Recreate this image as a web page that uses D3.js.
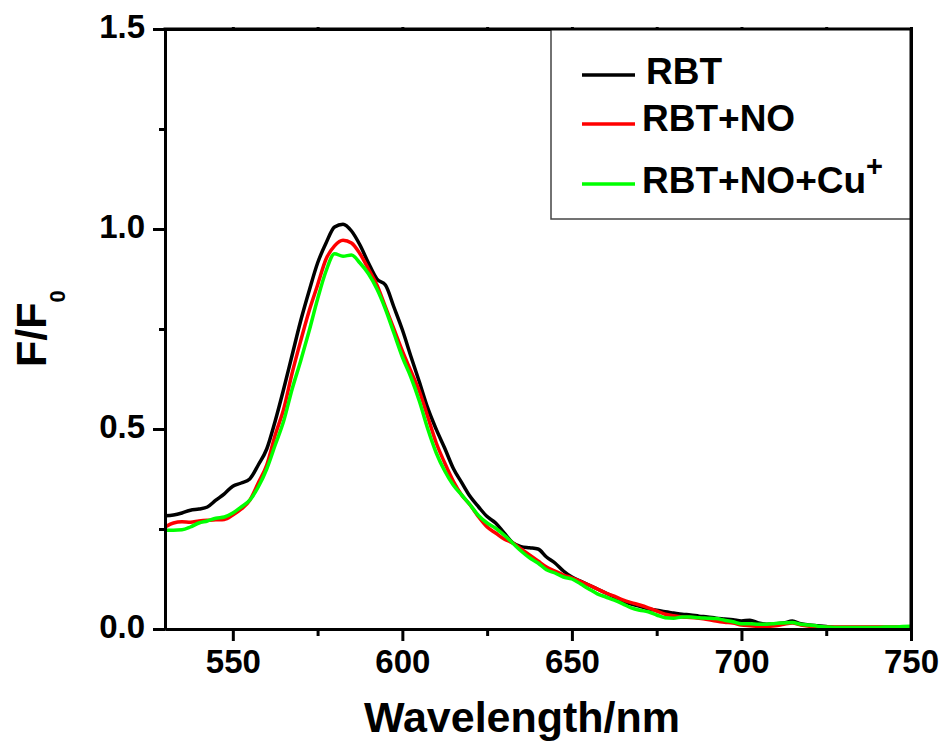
<!DOCTYPE html>
<html>
<head>
<meta charset="utf-8">
<script src="https://cdn.jsdelivr.net/npm/d3@7/dist/d3.min.js"></script>
<style>
  html, body { margin: 0; padding: 0; background: #fff; }
  svg { display: block; font-family: "Liberation Sans", Arial, sans-serif; font-weight: bold; }
</style>
</head>
<body>
<svg id="chart" width="944" height="746"></svg>
<script>
// ---- data ----
const wavelengths = d3.range(530, 750.01, 2.5);
const seriesNames = ["RBT", "RBT+NO", "RBT+NO+Cu"];
const seriesColors = ["#000000", "#ff0000", "#00ff00"];
const rbt = [
  0.283,0.285,0.290,0.297,0.300,0.305,0.322,0.338,0.357,0.365,
  0.375,0.410,0.450,0.520,0.600,0.685,0.770,0.845,0.915,0.965,
  1.005,1.012,0.995,0.960,0.915,0.875,0.860,0.805,0.748,0.682,
  0.618,0.552,0.499,0.452,0.402,0.366,0.331,0.305,0.281,0.265,
  0.240,0.216,0.206,0.203,0.200,0.180,0.165,0.145,0.130,0.120,
  0.110,0.100,0.090,0.080,0.070,0.062,0.057,0.050,0.047,0.043,
  0.040,0.037,0.035,0.032,0.030,0.027,0.025,0.023,0.020,0.022,
  0.015,0.012,0.013,0.015,0.020,0.013,0.010,0.008,0.006,0.004,
  0.004,0.004,0.004,0.004,0.004,0.004,0.004,0.004,0.004
];
const rbtNO = [
  0.255,0.265,0.268,0.267,0.270,0.272,0.273,0.274,0.285,0.300,
  0.322,0.365,0.410,0.485,0.550,0.640,0.720,0.795,0.860,0.925,
  0.958,0.972,0.965,0.938,0.900,0.860,0.805,0.750,0.695,0.645,
  0.595,0.530,0.465,0.415,0.370,0.335,0.310,0.280,0.255,0.240,
  0.225,0.215,0.200,0.185,0.170,0.155,0.145,0.135,0.128,0.119,
  0.110,0.100,0.090,0.082,0.073,0.066,0.060,0.053,0.045,0.037,
  0.033,0.030,0.029,0.027,0.024,0.020,0.017,0.015,0.010,0.008,
  0.006,0.006,0.008,0.012,0.015,0.010,0.007,0.005,0.005,0.005,
  0.005,0.005,0.005,0.005,0.005,0.005,0.005,0.005,0.005
];
const rbtNOCu = [
  0.247,0.247,0.248,0.255,0.265,0.270,0.277,0.280,0.290,0.305,
  0.322,0.355,0.400,0.460,0.520,0.600,0.670,0.745,0.825,0.895,
  0.938,0.932,0.935,0.915,0.888,0.850,0.800,0.740,0.680,0.630,
  0.570,0.500,0.440,0.395,0.360,0.335,0.310,0.283,0.265,0.252,
  0.235,0.215,0.195,0.178,0.165,0.148,0.140,0.130,0.125,0.113,
  0.100,0.088,0.080,0.072,0.063,0.053,0.047,0.043,0.035,0.028,
  0.027,0.030,0.030,0.028,0.027,0.026,0.022,0.018,0.013,0.013,
  0.012,0.012,0.014,0.015,0.016,0.012,0.010,0.007,0.005,0.004,
  0.004,0.004,0.004,0.004,0.004,0.005,0.005,0.006,0.007
];
const xTicks = [550, 600, 650, 700, 750];
const xMinorTicks = [575, 625, 675, 725];
const yTicks = [0.0, 0.5, 1.0, 1.5];
const yMinorTicks = [0.25, 0.75, 1.25];

// ---- layout ----
const svg = d3.select("#chart");
const L = 165, R = 911, T = 29, B = 629;
const x = d3.scaleLinear().domain([530, 750]).range([L, R]);
const y = d3.scaleLinear().domain([0, 1.5]).range([B, T]);

const all = [rbt, rbtNO, rbtNOCu];

svg.append("clipPath").attr("id", "clip")
  .append("rect").attr("x", L).attr("y", T).attr("width", R - L).attr("height", B - T);

const line = d3.line()
  .x((d, i) => x(wavelengths[i]))
  .y(d => y(d))
  .curve(d3.curveMonotoneX);

const plot = svg.append("g").attr("clip-path", "url(#clip)");
all.forEach((s, k) => {
  plot.append("path")
    .datum(s)
    .attr("fill", "none")
    .attr("stroke", seriesColors[k])
    .attr("stroke-width", 3.5)
    .attr("stroke-linejoin", "round")
    .attr("d", line);
});

// ---- axes ----
function styleAxis(g) {
  g.selectAll("path.domain").attr("stroke", "#000").attr("stroke-width", 3);
  g.selectAll(".tick line").attr("stroke", "#000").attr("stroke-width", 3);
  g.selectAll(".tick text").attr("fill", "#000")
    .style("font-size", "33px").style("font-weight", "bold")
    .style("font-family", "'Liberation Sans', Arial, sans-serif");
}

// bottom
const gxMinor = svg.append("g").attr("transform", `translate(0,${B})`)
  .call(d3.axisBottom(x).tickValues(xMinorTicks).tickSize(7).tickFormat("").tickSizeOuter(0));
styleAxis(gxMinor);
const gx = svg.append("g").attr("transform", `translate(0,${B})`)
  .call(d3.axisBottom(x).tickValues(xTicks).tickSize(12).tickPadding(9).tickSizeOuter(0).tickFormat(d3.format("d")));
styleAxis(gx);

// left
const gyMinor = svg.append("g").attr("transform", `translate(${L},0)`)
  .call(d3.axisLeft(y).tickValues(yMinorTicks).tickSize(6).tickFormat("").tickSizeOuter(0));
styleAxis(gyMinor);
const gy = svg.append("g").attr("transform", `translate(${L},0)`)
  .call(d3.axisLeft(y).tickValues(yTicks).tickSize(12).tickPadding(8).tickSizeOuter(0).tickFormat(d3.format(".1f")));
styleAxis(gy);
gy.selectAll(".tick text").attr("dy", "0.25em");

// top & right (small ticks)
const gt = svg.append("g").attr("transform", `translate(0,${T})`)
  .call(d3.axisTop(x).tickValues(xTicks.concat(xMinorTicks)).tickSize(2).tickFormat("").tickSizeOuter(0));
styleAxis(gt);
const gr = svg.append("g").attr("transform", `translate(${R},0)`)
  .call(d3.axisRight(y).tickValues(yTicks.concat(yMinorTicks)).tickSize(2).tickFormat("").tickSizeOuter(0));
styleAxis(gr);

// axis titles
svg.append("text")
  .attr("x", 522).attr("y", 732)
  .attr("text-anchor", "middle")
  .style("font-size", "43px")
  .text("Wavelength/nm");

const yt = svg.append("text")
  .attr("transform", "translate(46,367) rotate(-90)")
  .attr("text-anchor", "start")
  .style("font-size", "43px");
yt.append("tspan").text("F/F");
yt.append("tspan").attr("dy", 19).style("font-size", "22px").text("0");

// ---- legend ----
const lg = svg.append("g");
lg.append("rect")
  .attr("x", 551).attr("y", 29).attr("width", 360).attr("height", 190)
  .attr("fill", "#fff").attr("stroke", "#444").attr("stroke-width", 1.5);
const legendRows = [
  { ly: 75, tx: 646, ty: 84 },
  { ly: 124, tx: 642, ty: 131 },
  { ly: 184, tx: 642, ty: 193 }
];
seriesNames.forEach((name, k) => {
  const r = legendRows[k];
  lg.append("line")
    .attr("x1", 582).attr("x2", 635).attr("y1", r.ly).attr("y2", r.ly)
    .attr("stroke", seriesColors[k]).attr("stroke-width", 3.5);
  const t = lg.append("text").attr("x", r.tx).attr("y", r.ty).style("font-size", "37px");
  t.append("tspan").text(name);
  if (k === 2) {
    t.append("tspan").attr("dy", -17).style("font-size", "29px").text("+");
  }
});
// right and top axis lines redrawn on top of legend
svg.append("line").attr("x1", R).attr("x2", R).attr("y1", T).attr("y2", B)
  .attr("stroke", "#000").attr("stroke-width", 3);
svg.append("line").attr("x1", L - 1.5).attr("x2", R + 1.5).attr("y1", T).attr("y2", T)
  .attr("stroke", "#000").attr("stroke-width", 3);
</script>
</body>
</html>
